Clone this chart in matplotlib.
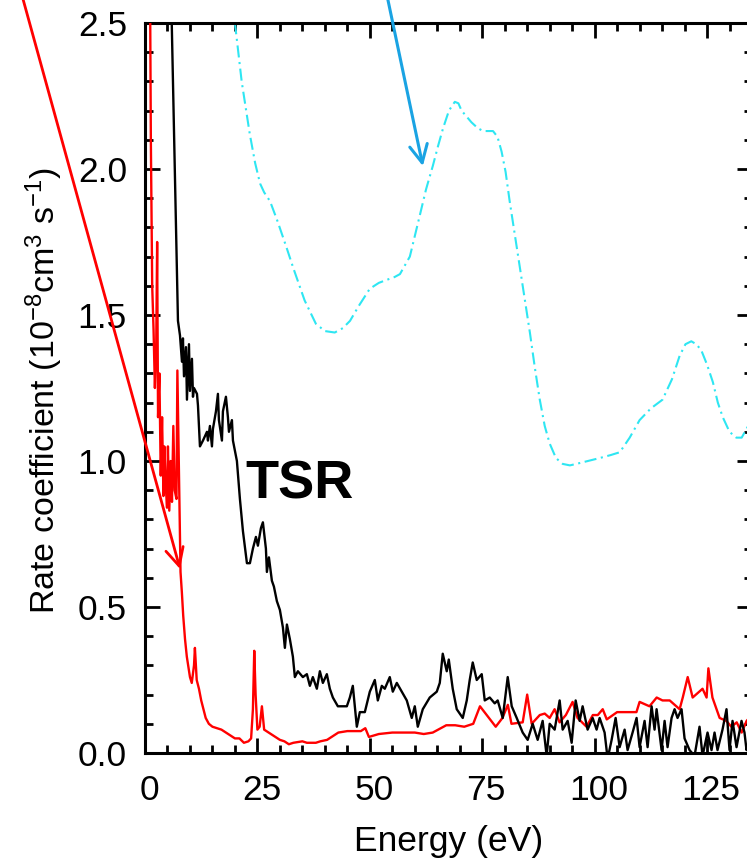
import numpy as np
import matplotlib
matplotlib.use("Agg")
import matplotlib.pyplot as plt
from matplotlib.ticker import MultipleLocator
import matplotlib.transforms as mtransforms

plt.rcParams['font.family'] = ['Liberation Sans', 'DejaVu Sans']
plt.rcParams['mathtext.default'] = 'regular'

# ---------------- data ----------------
# TSR (black) rate coefficient vs energy
tsr_E = [5.0, 7.33, 7.78, 8.22, 8.44, 8.67, 9.11, 9.33, 9.78, 10.0, 10.44, 10.67, 10.89,
         11.56, 11.78, 12.22, 12.89, 13.78, 14.0, 14.44, 14.89, 15.11, 15.78, 16.22, 16.44,
         17.11, 17.33, 18.0, 18.44, 18.67, 19.33, 19.56, 20.44, 21.11, 21.78, 22.67, 23.33,
         24.0, 24.67, 25.11, 25.78, 26.22, 26.89, 27.11, 27.56, 28.22, 28.67, 29.33, 30.0,
         30.67, 31.11, 31.56, 32.22, 32.89, 33.33, 34.0, 35.11, 36.0, 36.67, 37.33, 38.22,
         38.89, 39.56, 40.44, 41.11, 41.78, 42.89, 43.33, 44.89, 45.56, 46.22, 47.11, 47.78,
         48.89, 50.0, 51.11, 51.78, 52.67, 53.33, 54.44, 55.11, 56.0, 57.11, 58.22, 59.33,
         60.0, 60.67, 61.78, 63.33, 64.89, 65.56, 66.22, 67.11, 67.56, 68.44, 69.33, 70.67,
         71.56, 72.22, 72.89, 73.78, 74.89, 75.56, 76.67, 77.78, 78.44, 79.56, 80.67, 81.56,
         82.67, 84.0, 85.11, 86.22, 87.33, 88.44, 89.33, 90.0, 91.11, 92.22, 92.89, 94.0,
         94.89, 95.78, 96.67, 97.33, 98.44, 99.56, 100.44, 101.11, 102.22, 102.89, 103.78,
         104.67, 105.56, 106.67, 107.33, 108.44, 109.33, 110.0, 111.11, 111.78, 112.67,
         113.33, 113.78, 114.89, 115.56, 116.22, 117.11, 117.78, 118.44, 119.33, 120.0,
         121.11, 122.22, 123.33, 124.0, 125.11, 126.0, 126.67, 127.33, 128.44, 129.33,
         130.0, 130.67, 131.56, 132.67, 133.33, 133.78, 135.0]
tsr_k = [3.2, 1.48, 1.43, 1.34, 1.42, 1.29, 1.39, 1.21, 1.40, 1.24, 1.35, 1.22, 1.25,
         1.23, 1.19, 1.05, 1.07, 1.10, 1.07, 1.12, 1.05, 1.11, 1.17, 1.23, 1.14,
         1.07, 1.17, 1.22, 1.15, 1.10, 1.14, 1.07, 1.00, 0.87, 0.76, 0.65, 0.65,
         0.70, 0.74, 0.71, 0.77, 0.79, 0.70, 0.62, 0.67, 0.59, 0.57, 0.52, 0.49,
         0.43, 0.36, 0.44, 0.39, 0.33, 0.26, 0.28, 0.26, 0.27, 0.23, 0.26, 0.22,
         0.28, 0.24, 0.27, 0.22, 0.19, 0.16, 0.16, 0.16, 0.19, 0.23, 0.09, 0.14,
         0.14, 0.21, 0.25, 0.18, 0.23, 0.22, 0.26, 0.21, 0.24, 0.21, 0.18, 0.12,
         0.16, 0.09, 0.15, 0.19, 0.21, 0.24, 0.34, 0.28, 0.32, 0.22, 0.15, 0.12,
         0.18, 0.25, 0.31, 0.25, 0.27, 0.18, 0.19, 0.17, 0.18, 0.12, 0.26, 0.16,
         0.12, 0.07, 0.045, 0.10, 0.045, 0.11, -0.01, 0.10, 0.08, 0.18, 0.08, 0.11,
         0.035, 0.18, 0.11, 0.16, 0.08, 0.12, 0.08, 0.12, 0.07, -0.02, 0.045,
         0.12, 0.02, 0.08, 0.01, 0.07, 0.12, 0.02, 0.11, 0.02, 0.16,
         0.08, 0.15, 0.01, 0.11, 0.02, 0.12, 0.15, 0.12, 0.15, 0.05,
         0.01, -0.01, 0.09, -0.01, 0.07, 0.01, 0.07, 0.01, 0.08, 0.15,
         0.01, 0.11, 0.02, 0.11, 0.07, 0.01, 0.08]

# second measured curve (red)
red_E = [1.0, 1.3, 1.6, 1.9, 2.2, 2.5, 2.7, 2.9, 3.2, 3.5, 3.8, 4.1, 4.3, 4.6, 4.9, 5.1,
         5.4, 5.7, 6.0, 6.3, 6.6, 7.0, 7.2, 7.9, 8.2, 8.5, 8.9, 9.3, 9.7, 10.0, 10.4, 10.9,
         11.1, 11.5, 12.0, 12.5, 13.0, 13.5, 14.2, 15.0, 16.0, 17.0, 18.0, 19.0, 20.0, 21.0,
         22.0, 23.0, 23.6, 24.0, 24.3, 24.6, 25.0, 25.5, 26.0, 26.5, 27.5, 28.5, 30.0, 31.0,
         32.0, 33.0, 35.0, 36.0, 38.0, 39.0, 40.5, 42.0, 43.0, 45.0, 48.0, 49.0, 49.8, 52.0,
         55.0, 58.0, 60.0, 62.0, 64.0, 67.0, 69.0, 71.0, 73.0, 74.5, 75.5, 78.0, 79.5, 80.7,
         81.5, 84.0, 85.0, 86.0, 87.8, 88.9, 90.0, 91.1, 92.2, 93.6, 95.1, 96.2, 98.2, 99.6,
         100.7, 101.8, 102.7, 105.0, 107.1, 109.3, 110.0, 112.2, 113.8, 115.1, 116.7, 118.9,
         119.6, 120.7, 121.8, 124.0, 124.9, 125.3, 126.2, 127.8, 129.3, 130.4, 131.6, 132.7,
         133.8, 135.0]
red_k = [3.0, 2.1, 1.6, 1.45, 1.25, 1.4, 1.75, 1.15, 1.3, 0.95, 1.15, 0.88, 1.05, 0.92, 0.84, 1.05,
         0.83, 1.0, 0.86, 1.12, 0.9, 0.87, 1.31, 0.62, 0.55, 0.47, 0.39, 0.33, 0.29, 0.26, 0.24, 0.30,
         0.36, 0.25, 0.22, 0.18, 0.15, 0.12, 0.10, 0.09, 0.085, 0.08, 0.07, 0.06, 0.05, 0.05,
         0.035, 0.04, 0.05, 0.15, 0.35, 0.2, 0.08, 0.09, 0.16, 0.08, 0.07, 0.06, 0.045, 0.04,
         0.03, 0.035, 0.04, 0.035, 0.035, 0.04, 0.045, 0.06, 0.07, 0.075, 0.075, 0.085, 0.055, 0.065,
         0.07, 0.07, 0.07, 0.065, 0.07, 0.095, 0.095, 0.09, 0.10, 0.16, 0.14, 0.09, 0.12, 0.165,
         0.10, 0.105, 0.20, 0.10, 0.13, 0.135, 0.12, 0.15, 0.105, 0.13, 0.175, 0.12, 0.09, 0.13,
         0.13, 0.15, 0.115, 0.14, 0.14, 0.14, 0.175, 0.16, 0.19, 0.18, 0.18, 0.15,
         0.19, 0.26, 0.19, 0.22, 0.19, 0.29, 0.19, 0.12, 0.11, 0.09, 0.105, 0.07,
         0.11, 0.13]

# theory curve (cyan, dash-dot)
th_E = [18.0, 20.0, 21.5, 23.3, 24.5, 25.6, 26.5, 27.8, 29.5, 31.5, 33.0, 35.5, 38.0, 40.0,
        42.2, 44.0, 45.6, 47.5, 50.0, 52.0, 53.7, 55.5, 56.7, 58.9, 60.0, 61.1, 62.5, 64.0,
        65.2, 66.3, 67.6, 68.9, 69.7, 70.4, 71.5, 72.6, 74.0, 75.2, 77.4, 78.4, 79.3, 80.2,
        81.1, 82.2, 83.3, 84.5, 85.6, 86.7, 87.8, 88.9, 90.0, 91.4, 92.9, 94.5, 95.9, 98.5,
        101.1, 103.5, 105.6, 107.8, 110.0, 112.5, 115.1, 117.2, 118.9, 120.2, 121.5, 122.6,
        123.7, 125.0, 126.3, 127.4, 128.5, 130.0, 131.5, 132.7, 133.8, 135.5]
th_k = [2.9, 2.5, 2.3, 2.12, 2.02, 1.95, 1.92, 1.89, 1.82, 1.73, 1.66, 1.55, 1.47, 1.445,
        1.44, 1.455, 1.48, 1.53, 1.59, 1.61, 1.62, 1.63, 1.64, 1.70, 1.77, 1.84, 1.93, 2.01,
        2.08, 2.14, 2.20, 2.23, 2.225, 2.20, 2.18, 2.16, 2.14, 2.13, 2.13, 2.11, 2.06, 1.99,
        1.89, 1.78, 1.67, 1.55, 1.44, 1.32, 1.21, 1.12, 1.06, 1.01, 0.99, 0.985, 0.99, 1.00,
        1.01, 1.02, 1.03, 1.08, 1.14, 1.18, 1.21, 1.28, 1.36, 1.40, 1.41, 1.40,
        1.38, 1.33, 1.27, 1.20, 1.15, 1.10, 1.08, 1.08, 1.11, 1.16]

x_ticks = [0, 25, 50, 75, 100, 125]
y_ticks = [0.0, 0.5, 1.0, 1.5, 2.0, 2.5]
label_text = "TSR"

# ---------------- figure ----------------
W, H = 747, 859
fig = plt.figure(figsize=(W / 100, H / 100), dpi=100)
ax = fig.add_axes([145 / W, (H - 753) / H, 607 / W, 730 / H])

ax.plot(th_E, th_k, color='#2ee6f2', lw=1.5, linestyle=(0, (5.8, 2.2, 1.0, 2.2)), zorder=2)
ax.plot(red_E, red_k, color='#ff0000', lw=1.7, zorder=3)
ax.plot(tsr_E, tsr_k, color='black', lw=1.7, zorder=4)

ax.set_xlim(0, 135)
ax.set_ylim(0, 2.5)
ax.set_xticks(x_ticks)
ax.set_yticks(y_ticks)
ax.set_yticklabels([f"{v:.1f}" for v in y_ticks])
ax.xaxis.set_minor_locator(MultipleLocator(5))
ax.yaxis.set_minor_locator(MultipleLocator(0.1))
ax.tick_params(which='both', direction='in', top=True, right=True, width=2.0, colors='black')
ax.tick_params(which='major', length=11, labelsize=25.5)
ax.tick_params(which='minor', length=5.5)
ax.tick_params(axis='y', which='major', pad=13)
ax.tick_params(axis='x', which='major', pad=15)
for s in ax.spines.values():
    s.set_linewidth(2.2)

offset = mtransforms.ScaledTranslation(4 / 100, 0, fig.dpi_scale_trans)
for lbl in ax.get_xticklabels():
    lbl.set_transform(lbl.get_transform() + offset)

ax.set_xlabel("Energy (eV)", fontsize=25.5, labelpad=13)
fig.text(44 / W, 1 - 390 / H, r"Rate coefficient (10$^{-8}$cm$^{3}$ s$^{-1}$)",
         rotation=90, ha='center', va='center', fontsize=24.5)

ax.text(34.4, 0.92, label_text, fontsize=39, fontweight='bold', ha='center', va='center')

# annotation arrows (straight lines that start outside the plotted region)
ax.annotate("", xy=(7.8, 0.63), xycoords='data',
            xytext=(-28.3, 2.647), textcoords='data',
            arrowprops=dict(arrowstyle='->,head_length=0.8,head_width=0.4', color='#ff0000',
                            lw=2.0, shrinkA=0, shrinkB=0, mutation_scale=16,
                            connectionstyle='arc3,rad=0'),
            annotation_clip=False)
ax.annotate("", xy=(61.8, 2.01), xycoords='data',
            xytext=(53.1, 2.647), textcoords='data',
            arrowprops=dict(arrowstyle='->,head_length=0.8,head_width=0.4', color='#1aa3e3',
                            lw=2.2, shrinkA=0, shrinkB=0, mutation_scale=16,
                            connectionstyle='arc3,rad=0'),
            annotation_clip=False)

fig.savefig("out.png", dpi=100)
